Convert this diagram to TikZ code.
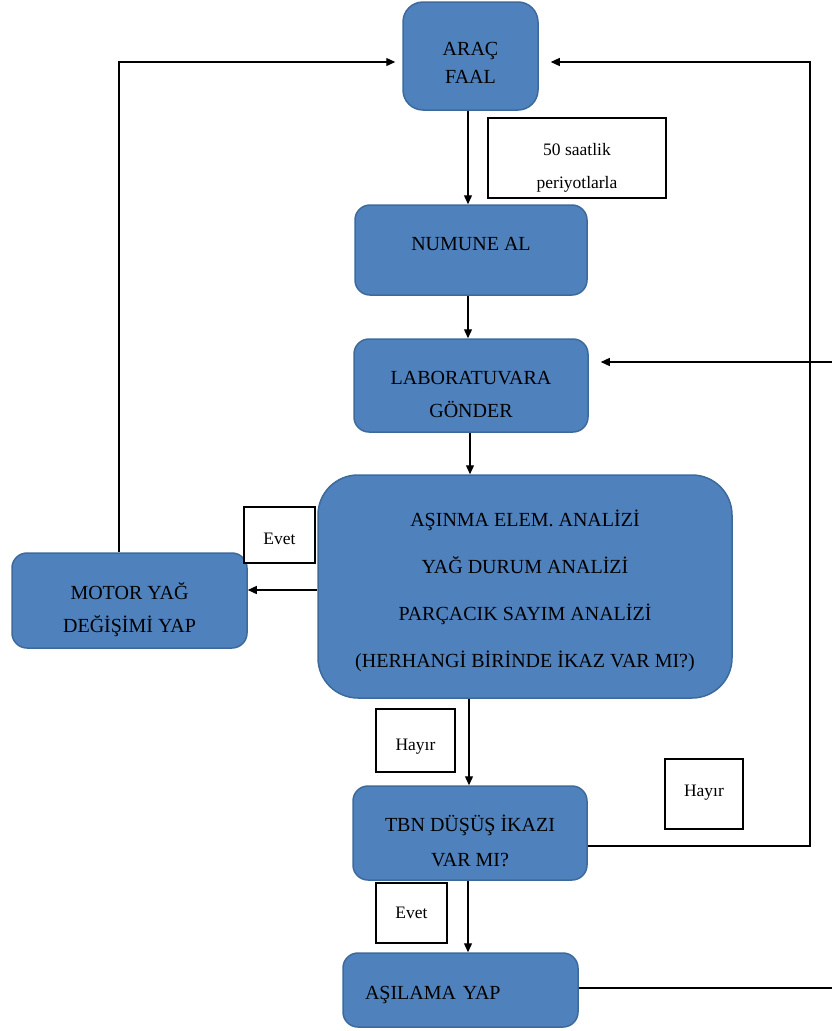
\documentclass[tikz,border=0pt]{standalone}
\usepackage{fontspec}
\setmainfont{Liberation Serif}
\usetikzlibrary{arrows.meta,positioning}
\definecolor{boxfill}{HTML}{4F81BD}
\definecolor{boxline}{HTML}{3D6A9B}
\newcommand\hup[1]{\rule{0pt}{#1}}
\newcommand\hdn[1]{\rule[-#1]{0pt}{0pt}}

\begin{document}
\begin{tikzpicture}[x=1pt,y=-1pt,
  proc/.style={draw=boxline,fill=boxfill,line width=1.5pt,rounded corners=15pt,align=center,inner sep=0pt,font=\fontsize{20}{33}\selectfont},
  tag/.style={draw,line width=1.2pt,fill=white,inner sep=0pt,align=center,font=\fontsize{17.5}{33}\selectfont},
  flow/.style={line width=1.3pt,-{Triangle[length=9pt,width=8pt]}}]
  \useasboundingbox (0,0) rectangle (831,1031);
  % process boxes
  \node[proc,minimum width=135pt,minimum height=108pt,rounded corners=20pt,font=\fontsize{20}{28}\selectfont](arac) at (470.5,56){\hup{32.2pt}ARAÇ\\FAAL\hdn{5pt}};
  \node[proc,minimum width=232pt,minimum height=90pt](numune) at (471,250){\hup{14pt}NUMUNE AL\hdn{12.8pt}};
  \node[proc,minimum width=234pt,minimum height=93pt](lab) at (471,385.5){\hup{35.2pt}LABORATUVARA\\GÖNDER\hdn{5pt}};
  \node[proc,minimum width=414pt,minimum height=223pt,rounded corners=40pt,font=\fontsize{20}{47}\selectfont](analiz) at (525,586.5){\hup{26.2pt}AŞINMA ELEM. ANALİZİ\\YAĞ DURUM ANALİZİ\\PARÇACIK SAYIM ANALİZİ\\(HERHANGİ BİRİNDE İKAZ VAR MI?)\hdn{5pt}};
  \node[proc,minimum width=235pt,minimum height=95pt](motor) at (129.5,600.5){\hup{36.2pt}MOTOR YAĞ\\DEĞİŞİMİ YAP\hdn{5pt}};
  \node[proc,minimum width=234pt,minimum height=94pt,font=\fontsize{20}{35}\selectfont](tbn) at (470,833){\hup{36.2pt}TBN DÜŞÜŞ İKAZI\\VAR MI?\hdn{5pt}};
  \node[proc,minimum width=235pt,minimum height=74pt,text width=191pt,align=left,inner xsep=22pt](asilama) at (460.5,990){\hup{24.2pt}AŞILAMA YAP\hdn{5pt}};
  % labels
  \node[tag,minimum width=178pt,minimum height=80pt](saat) at (577,158){\hup{32.4pt}50 saatlik\\periyotlarla\hdn{5pt}};
  \node[tag,minimum width=71pt,minimum height=56pt](evet1) at (279.5,535){\hup{24.4pt}Evet\hdn{5pt}};
  \node[tag,minimum width=79pt,minimum height=63pt](hayir1) at (415.5,740.5){\hup{24.4pt}Hayır\hdn{5pt}};
  \node[tag,minimum width=78pt,minimum height=70pt](hayir2) at (704,794){\hup{12pt}Hayır\hdn{6.6pt}};
  \node[tag,minimum width=71pt,minimum height=60pt](evet2) at (411.5,913){Evet};
  \coordinate (rt) at (810,62);
  \coordinate (rb) at (834,362);
  % connectors
  \draw[flow] ([xshift=-2.5pt]arac.south) -- ([xshift=-2.5pt]arac.south |- numune.north);
  \draw[flow] ([xshift=-3pt]numune.south) -- ([xshift=-3pt]numune.south |- lab.north);
  \draw[flow] ([xshift=-1pt]lab.south) -- ([xshift=-1pt]lab.south |- analiz.north);
  \draw[flow] ([xshift=-1pt]tbn.north |- analiz.south) -- ([xshift=-1pt]tbn.north);
  \draw[flow] ([xshift=-2pt]tbn.south) -- ([xshift=-2pt]tbn.south |- asilama.north);
  \draw[flow] ([yshift=10.5pt]analiz.west |- motor.east) -- ([yshift=10.5pt]motor.east);
  \draw[flow,shorten >=7pt] ([xshift=-10.5pt]motor.north) |- ([yshift=-6pt]arac.west);
  \draw[flow,shorten >=12pt] ([yshift=-13pt]tbn.east) -| (rt) -- ([yshift=-6pt]arac.east);
  \draw[flow,shorten >=12pt] ([yshift=2pt]asilama.east) -| (rb) -- ([yshift=23.5pt]lab.east);
\end{tikzpicture}
\end{document}
